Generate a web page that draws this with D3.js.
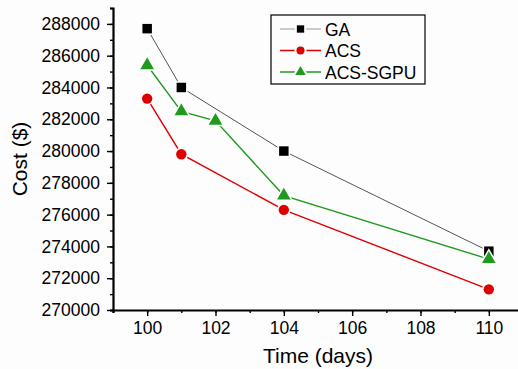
<!DOCTYPE html>
<html>
<head>
<meta charset="utf-8">
<script src="https://cdn.jsdelivr.net/npm/d3@7"></script>
<style>
  html, body { margin: 0; padding: 0; background: #fdfdfd; }
  svg { display: block; font-family: "Liberation Sans", Arial, sans-serif; }
</style>
</head>
<body>
<div id="app"></div>
<script>
// data
const days = [100, 101, 102, 104, 110]
const gaCost = [287700, 284000, null, 280000, 273700]
const acsCost = [283300, 279800, null, 276300, 271300]
const sgpuCost = [285400, 282500, 281900, 277200, 273200]
const seriesNames = ["GA", "ACS", "ACS-SGPU"]
const xTicks = [100, 102, 104, 106, 108, 110]
const yTicks = [270000, 272000, 274000, 276000, 278000, 280000, 282000, 284000, 286000, 288000]

const W = 518, H = 369

const fx = d3.scaleLinear().domain([99, 111]).range([113, 523])
const fy = d3.scaleLinear().domain([270000, 289000]).range([310, 8])

const series = [
  { name: seriesNames[0], values: gaCost, color: "#000", line: "#555", lw: 1, shape: d3.symbolSquare, size: 90 },
  { name: seriesNames[1], values: acsCost, color: "#dd0000", line: "#dd0000", lw: 1.4, shape: d3.symbolCircle, size: 85 },
  { name: seriesNames[2], values: sgpuCost, color: "#1f9a1f", line: "#1f9a1f", lw: 1.4, shape: d3.symbolTriangle, size: 80 },
]

let svg = d3.select("#app").append("svg")
  .attr("width", W)
  .attr("height", H)

// axes: major ticks labelled, minor ticks in between
let gx = svg.append("g")
  .attr("transform", "translate(0,310)")
gx.call(d3.axisBottom(fx).tickValues(d3.range(99, 112, 1)).tickSize(3).tickFormat(""))
gx.append("g").call(d3.axisBottom(fx).tickValues(xTicks).tickSize(6).tickPadding(6))
  .selectAll("text").attr("font-size", 17.5).attr("fill", "#000")

let gy = svg.append("g")
  .attr("transform", "translate(113,0)")
gy.call(d3.axisLeft(fy).tickValues(d3.range(270000, 289001, 1000)).tickSize(3).tickFormat(""))
gy.append("g").call(d3.axisLeft(fy).tickValues(yTicks).tickSize(6).tickPadding(7).tickFormat(d3.format("d")))
  .selectAll("text").attr("font-size", 17.5).attr("fill", "#000")

svg.selectAll("g > g > .domain").remove()
svg.selectAll(".domain").attr("stroke-width", 2.2).attr("stroke", "#000")
svg.selectAll(".tick line").attr("stroke-width", 1.4).attr("stroke", "#000")

svg.append("text")
  .attr("x", fx(105)).attr("y", 363)
  .attr("text-anchor", "middle")
  .attr("font-size", 21)
  .text("Time (days)")

svg.append("text")
  .attr("transform", `translate(27,${fy(279500)}) rotate(-90)`)
  .attr("text-anchor", "middle")
  .attr("font-size", 21)
  .text("Cost ($)")

// lines and markers
const line = d3.line()
  .x(d => fx(d[0]))
  .y(d => fy(d[1]))

let plot = svg.append("g")
series.forEach(s => {
  const pts = days.map((d, i) => [d, s.values[i]]).filter(p => p[1] != null)
  plot.append("path")
    .attr("d", line(pts))
    .attr("fill", "none")
    .attr("stroke", s.line)
    .attr("stroke-width", s.lw)
})
series.forEach(s => {
  const pts = days.map((d, i) => [d, s.values[i]]).filter(p => p[1] != null)
  plot.append("g").selectAll("path")
    .data(pts)
    .join("path")
      .attr("transform", d => `translate(${fx(d[0])},${fy(d[1])})`)
      .attr("d", d3.symbol(s.shape, s.size))
      .attr("fill", s.color)
      .attr("stroke", "#fdfdfd")
      .attr("stroke-width", 3)
      .attr("paint-order", "stroke")
})

// legend
let lg = svg.append("g").attr("transform", "translate(271,15)")
lg.append("rect")
  .attr("width", 154).attr("height", 69)
  .attr("fill", "#fdfdfd").attr("stroke", "#000").attr("stroke-width", 1.2)
series.forEach((s, i) => {
  const y = 14 + i * 21.5
  lg.append("line")
    .attr("x1", 9).attr("x2", 50).attr("y1", y).attr("y2", y)
    .attr("stroke", s.name == "GA" ? "#999" : s.line).attr("stroke-width", s.lw)
  lg.append("path")
    .attr("transform", `translate(29.5,${y})`)
    .attr("d", d3.symbol(s.shape, s.size * 0.6))
    .attr("fill", s.color)
    .attr("stroke", "#fdfdfd")
    .attr("stroke-width", 4)
    .attr("paint-order", "stroke")
  lg.append("text")
    .attr("x", 54).attr("y", y + 6.5)
    .attr("font-size", 17.5)
    .text(s.name)
})
</script>
</body>
</html>
